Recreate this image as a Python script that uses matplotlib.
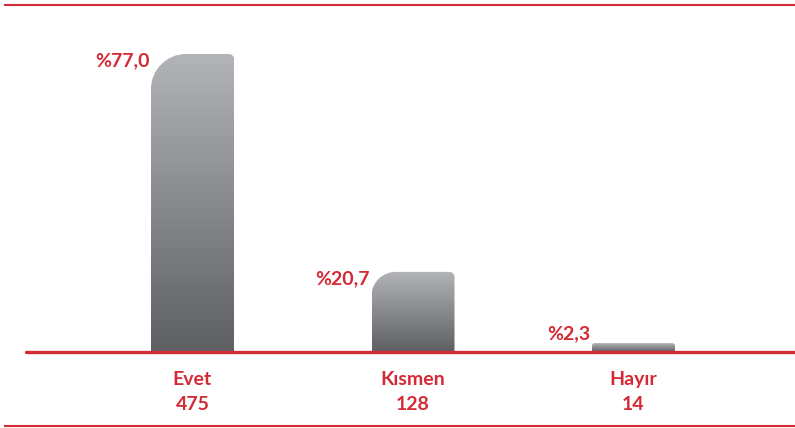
"""Evet / Kısmen / Hayır response share — rounded gradient bars."""

import numpy as np
import matplotlib
matplotlib.use("Agg")
import matplotlib.pyplot as plt
from matplotlib.path import Path
from matplotlib.patches import PathPatch
from matplotlib.lines import Line2D
from matplotlib.colors import LinearSegmentedColormap

# ── data ────────────────────────────────────────────────────────────────
CATEGORIES = ["Evet", "Kısmen", "Hayır"]
COUNTS = [475, 128, 14]
PERCENTS = [77.0, 20.7, 2.3]

RED = "#d42a35"
GRAY_CMAP = LinearSegmentedColormap.from_list("bar", ["#5e5f62", "#b3b4b7"])

plt.rcParams["font.family"] = ["Lato", "DejaVu Sans"]

W, H = 795, 428
fig = plt.figure(figsize=(W / 100, H / 100), dpi=100)

# axes: y=0 sits on the red baseline, 1 category unit ~ 220.5 px
base_px = H - 352
top_px = H - 12
ax = fig.add_axes([0, base_px / H, 1, (top_px - base_px) / H])
px_per_x = 220.5
px_per_y = 298 / 77.0
x_left = -192.5 / px_per_x
ax.set_xlim(x_left, x_left + W / px_per_x)
ax.set_ylim(0, (top_px - base_px) / px_per_y)
ax.axis("off")

BAR_W = 83 / px_per_x
K = 0.5523


def bar_path(x0, x1, h, r_left, r_right):
    rlx, rly = r_left / px_per_x, r_left / px_per_y
    rrx, rry = r_right / px_per_x, r_right / px_per_y
    verts = [
        (x0, 0), (x0, h - rly),
        (x0, h - rly + K * rly), (x0 + rlx - K * rlx, h), (x0 + rlx, h),
        (x1 - rrx, h),
        (x1 - rrx + K * rrx, h), (x1, h - rry + K * rry), (x1, h - rry),
        (x1, 0), (x0, 0),
    ]
    codes = [Path.MOVETO, Path.LINETO,
             Path.CURVE4, Path.CURVE4, Path.CURVE4,
             Path.LINETO,
             Path.CURVE4, Path.CURVE4, Path.CURVE4,
             Path.LINETO, Path.CLOSEPOLY]
    return Path(verts, codes)


grad = np.linspace(0, 1, 256).reshape(-1, 1)

for i, (cat, n, pct) in enumerate(zip(CATEGORIES, COUNTS, PERCENTS)):
    x0, x1 = i - BAR_W / 2, i + BAR_W / 2
    h_px = pct * px_per_y
    r_left = min(35, h_px * 0.3)
    r_right = min(5, h_px * 0.3)
    patch = PathPatch(bar_path(x0, x1, pct, r_left, r_right),
                      facecolor="none", edgecolor="none")
    ax.add_patch(patch)
    im = ax.imshow(grad, cmap=GRAY_CMAP, origin="lower", aspect="auto",
                   extent=[x0, x1, 0, pct], zorder=2)
    im.set_clip_path(patch)

    # percentage label, left of bar top (kept above the baseline)
    y_lbl = max(pct - 12 / px_per_y, 13 / px_per_y)
    ax.annotate(f"%{pct:.1f}".replace(".", ","), xy=(x0, y_lbl),
                xytext=(-1, 0), textcoords="offset points",
                ha="right", va="baseline", color=RED,
                fontsize=14, fontweight="bold")

    # category and count under the baseline
    ax.annotate(cat, xy=(i, 0), xytext=(0, -23.5), textcoords="offset points",
                ha="center", va="baseline", color=RED,
                fontsize=14, fontweight="bold", annotation_clip=False)
    ax.annotate(str(n), xy=(i, 0), xytext=(0, -41.5), textcoords="offset points",
                ha="center", va="baseline", color=RED,
                fontsize=14, fontweight="bold", annotation_clip=False)

ax.set_xlim(x_left, x_left + W / px_per_x)

# red rules: baseline, top and bottom
ax.axhline(0, xmin=26 / W, xmax=1, color=RED, linewidth=2.4,
           solid_capstyle="round", clip_on=False, zorder=3)
fig.add_artist(Line2D([5 / W, 1], [1 - 5 / H] * 2, color=RED, linewidth=1.5))
fig.add_artist(Line2D([5 / W, 1], [2 / H] * 2, color=RED, linewidth=1.5))

fig.savefig("out.png", dpi=100)
